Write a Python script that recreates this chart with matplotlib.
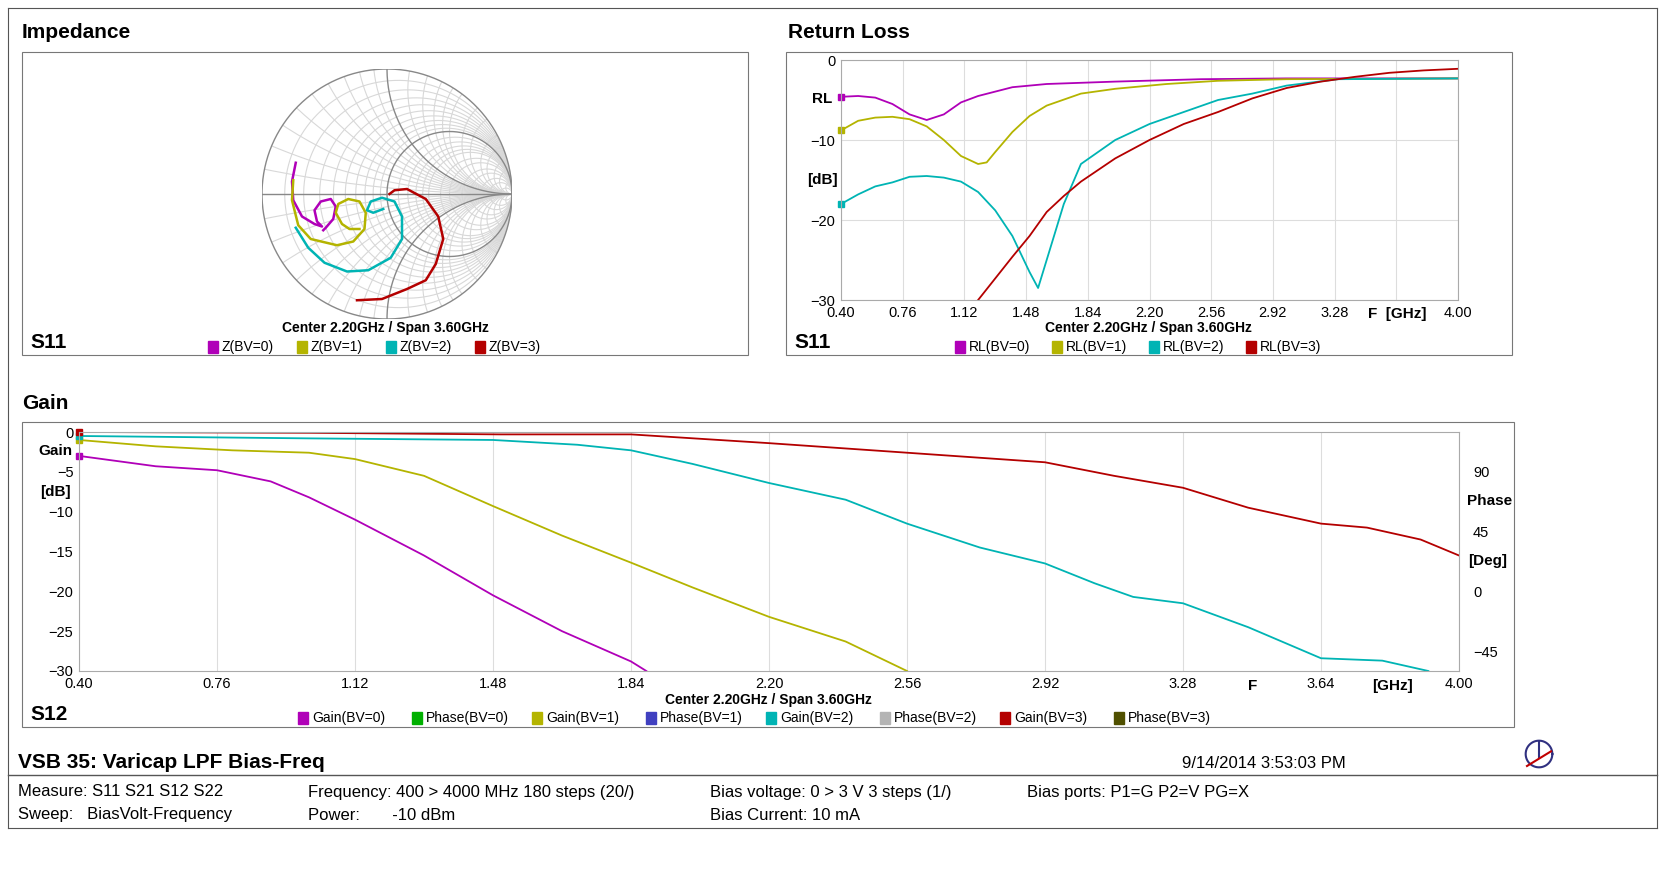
import matplotlib
matplotlib.use("Agg")
import matplotlib.pyplot as plt
import numpy as np
from matplotlib.patches import Circle, Rectangle

plt.rcParams['font.family'] = ['Liberation Sans', 'DejaVu Sans']

W, H = 1665, 883
colors = ['#b000b8', '#b4b400', '#00b4b4', '#b40000']
bv_names = ['BV=0', 'BV=1', 'BV=2', 'BV=3']

# Smith chart traces (reflection coefficient, re/im)
z_traces = [
    [(-0.73, 0.25), (-0.76, 0.10), (-0.75, -0.05), (-0.68, -0.18), (-0.58, -0.24), (-0.52, -0.26),
     (-0.56, -0.22), (-0.58, -0.13), (-0.53, -0.06), (-0.45, -0.04), (-0.41, -0.10), (-0.43, -0.20),
     (-0.49, -0.27), (-0.51, -0.29)],
    [(-0.75, 0.11), (-0.76, -0.05), (-0.71, -0.25), (-0.61, -0.36), (-0.40, -0.41), (-0.27, -0.38),
     (-0.18, -0.28), (-0.17, -0.15), (-0.22, -0.06), (-0.31, -0.04), (-0.39, -0.08), (-0.41, -0.15),
     (-0.36, -0.24), (-0.30, -0.28), (-0.22, -0.28)],
    [(-0.73, -0.27), (-0.63, -0.43), (-0.50, -0.55), (-0.32, -0.62), (-0.15, -0.61), (0.03, -0.51),
     (0.12, -0.36), (0.12, -0.18), (0.06, -0.06), (-0.04, -0.03), (-0.13, -0.06), (-0.16, -0.13),
     (-0.11, -0.15), (-0.03, -0.12)],
    [(-0.24, -0.85), (-0.04, -0.84), (0.16, -0.76), (0.31, -0.69), (0.39, -0.56), (0.45, -0.36),
     (0.41, -0.18), (0.31, -0.04), (0.16, 0.04), (0.06, 0.03), (0.02, 0.0)],
]

# Return loss (GHz, dB)
rl_f = [
    [0.4, 0.5, 0.6, 0.7, 0.8, 0.9, 1.0, 1.1, 1.2, 1.4, 1.6, 2.0, 2.5, 3.0, 4.0],
    [0.4, 0.5, 0.6, 0.7, 0.8, 0.9, 1.0, 1.1, 1.2, 1.25, 1.3, 1.4, 1.5, 1.6, 1.8, 2.0, 2.3, 2.6, 3.0, 4.0],
    [0.4, 0.5, 0.6, 0.7, 0.8, 0.9, 1.0, 1.1, 1.2, 1.3, 1.4, 1.5, 1.55, 1.6, 1.7, 1.8, 1.9, 2.0, 2.2,
     2.4, 2.6, 2.8, 3.0, 3.3, 4.0],
    [1.2, 1.3, 1.4, 1.5, 1.6, 1.7, 1.8, 2.0, 2.2, 2.4, 2.6, 2.8, 3.0, 3.2, 3.4, 3.6, 3.8, 4.0],
]
rl_db = [
    [-4.6, -4.5, -4.7, -5.5, -6.8, -7.5, -6.8, -5.3, -4.5, -3.4, -3.0, -2.7, -2.4, -2.3, -2.3],
    [-8.8, -7.6, -7.2, -7.1, -7.4, -8.3, -10, -12, -13, -12.8, -11.5, -9, -7, -5.7, -4.2, -3.6, -3.0,
     -2.6, -2.4, -2.3],
    [-18, -16.8, -15.8, -15.3, -14.6, -14.5, -14.7, -15.2, -16.5, -18.8, -22, -26.5, -28.5, -25, -18,
     -13, -11.5, -10, -8, -6.5, -5, -4.2, -3.2, -2.4, -2.3],
    [-30, -27.3, -24.6, -22, -19, -17, -15.2, -12.3, -10, -8, -6.5, -4.8, -3.5, -2.7, -2.1, -1.6, -1.3, -1.1],
]

# Gain S12 (GHz, dB)
g_f = [
    [0.4, 0.6, 0.76, 0.9, 1.0, 1.12, 1.3, 1.48, 1.66, 1.84, 1.88],
    [0.4, 0.6, 0.8, 1.0, 1.12, 1.3, 1.48, 1.66, 1.84, 2.0, 2.2, 2.4, 2.56],
    [0.4, 1.0, 1.48, 1.7, 1.84, 2.0, 2.2, 2.4, 2.56, 2.75, 2.92, 3.05, 3.15, 3.28, 3.45, 3.64, 3.8, 3.92],
    [0.4, 1.0, 1.5, 1.84, 2.2, 2.56, 2.92, 3.1, 3.28, 3.45, 3.64, 3.76, 3.9, 4.0],
]
g_db = [
    [-3, -4.3, -4.8, -6.2, -8.2, -11, -15.5, -20.5, -25, -28.8, -30],
    [-1, -1.8, -2.3, -2.6, -3.4, -5.5, -9.3, -13, -16.4, -19.5, -23.2, -26.3, -30],
    [-0.5, -0.8, -1.0, -1.6, -2.3, -4, -6.4, -8.5, -11.5, -14.5, -16.5, -19, -20.7, -21.5, -24.5, -28.4,
     -28.7, -30],
    [0, -0.1, -0.3, -0.3, -1.4, -2.6, -3.8, -5.5, -7, -9.5, -11.5, -12, -13.5, -15.5],
]
phase_colors = ['#00b000', '#4040c0', '#b4b4b4', '#505000']
xticks = np.round(np.arange(0.4, 4.01, 0.36), 2)

fig = plt.figure(figsize=(W / 100, H / 100), dpi=100)


def fax(l, t, r, b, **kw):
    return fig.add_axes([l / W, 1 - b / H, (r - l) / W, (b - t) / H], **kw)


def px(x, y, s, **kw):
    fig.text(x / W, 1 - y / H, s, **kw)


def legend_row(x0, y, items, gap):
    x = x0
    for col, lab in items:
        fig.patches.append(Rectangle((x / W, 1 - (y + 6) / H), 10 / W, 12 / H, color=col,
                                     transform=fig.transFigure))
        px(x + 14, y, lab, fontsize=10, va='center')
        x += gap(lab)


# outer frame and panel boxes
frame = fax(8, 8, 1657, 828)
frame.set_xticks([]); frame.set_yticks([])
for sp in frame.spines.values():
    sp.set_color('#555555')
for (l, t, r, b) in [(22, 52, 748, 355), (786, 52, 1512, 355), (22, 422, 1514, 727)]:
    fig.patches.append(Rectangle((l / W, 1 - b / H), (r - l) / W, (b - t) / H, fill=False,
                                 ec='#777777', lw=0.8, transform=fig.transFigure))
fig.add_artist(plt.Line2D([8 / W, 1657 / W], [1 - 775 / H, 1 - 775 / H], color='#555555', lw=1))

px(22, 32, 'Impedance', fontsize=15, fontweight='bold', va='center')
px(788, 32, 'Return Loss', fontsize=15, fontweight='bold', va='center')
px(22, 404, 'Gain', fontsize=15, fontweight='bold', va='center')
px(30, 343, 'S11', fontsize=15, fontweight='bold', va='center')
px(794, 343, 'S11', fontsize=15, fontweight='bold', va='center')
px(30, 714, 'S12', fontsize=15, fontweight='bold', va='center')

# Smith chart
ax = fax(262, 69, 512, 319)
ax.set_xlim(-1, 1); ax.set_ylim(-1, 1); ax.set_aspect('equal'); ax.axis('off')
clip = Circle((0, 0), 1, transform=ax.transData)
th = np.linspace(0, 2 * np.pi, 400)
for r in [0.1, 0.2, 0.3, 0.4, 0.5, 0.6, 0.7, 0.8, 0.9, 1.2, 1.4, 1.6, 1.8, 2, 2.5, 3, 4, 5, 7, 10, 20]:
    c, rad = r / (1 + r), 1 / (1 + r)
    ax.plot(c + rad * np.cos(th), rad * np.sin(th), color='#d8d8d8', lw=0.8)
for xv in [0.1, 0.2, 0.3, 0.4, 0.5, 0.6, 0.7, 0.8, 0.9, 1.2, 1.4, 1.6, 1.8, 2, 2.5, 3, 4, 5, 7, 10, 20]:
    for s in (1, -1):
        ln, = ax.plot(1 + np.cos(th) / xv, s / xv + np.sin(th) / xv, color='#d8d8d8', lw=0.8)
        ln.set_clip_path(clip)
ax.plot(0.5 + 0.5 * np.cos(th), 0.5 * np.sin(th), color='#888888', lw=1)
for s in (1, -1):
    ln, = ax.plot(1 + np.cos(th), s + np.sin(th), color='#888888', lw=1)
    ln.set_clip_path(clip)
ax.plot(np.cos(th), np.sin(th), color='#888888', lw=1)
ax.plot([-1, 1.05], [0, 0], color='#888888', lw=1)
for pts, col in zip(z_traces, colors):
    pts = np.array(pts)
    ax.plot(pts[:, 0], pts[:, 1], color=col, lw=1.8)
px(385, 328, 'Center 2.20GHz / Span 3.60GHz', fontsize=10, fontweight='bold', ha='center', va='center')
legend_row(208, 347, [(c, 'Z(' + n + ')') for c, n in zip(colors, bv_names)], lambda s: 89)

# Return loss
ax2 = fax(841, 60, 1458, 300)
ax2.set_xlim(0.4, 4.0); ax2.set_ylim(-30, 0)
ax2.set_xticks(xticks)
ax2.set_xticklabels(['%.2f' % v if abs(v - 3.64) > 0.01 else '' for v in xticks])
ax2.set_yticks([0, -10, -20, -30])
ax2.grid(color='#dddddd', lw=0.8)
for sp in ax2.spines.values():
    sp.set_color('#aaaaaa')
ax2.tick_params(length=0, labelsize=10.5, pad=4)
for f, d, col in zip(rl_f, rl_db, colors):
    ax2.plot(f, d, color=col, lw=1.3, clip_on=True)
    if f[0] == 0.4:
        ax2.plot([0.4], [d[0]], 's', color=col, ms=5, clip_on=False)
px(822, 99, 'RL', fontsize=11, fontweight='bold', ha='center', va='center')
px(822, 180, '[dB]', fontsize=11, fontweight='bold', ha='center', va='center')
px(1397, 314, 'F  [GHz]', fontsize=11, fontweight='bold', ha='center', va='center')
px(1148, 328, 'Center 2.20GHz / Span 3.60GHz', fontsize=10, fontweight='bold', ha='center', va='center')
legend_row(955, 347, [(c, 'RL(' + n + ')') for c, n in zip(colors, bv_names)], lambda s: 97)

# Gain / phase
ax3 = fax(79, 432, 1459, 671)
ax3.set_xlim(0.4, 4.0); ax3.set_ylim(-30, 0)
ax3.set_xticks(xticks)
ax3.set_xticklabels(['%.2f' % v for v in xticks])
ax3.set_yticks(np.arange(-30, 1, 5))
ax3.grid(axis='x', color='#dddddd', lw=0.8)
for sp in ax3.spines.values():
    sp.set_color('#aaaaaa')
ax3.tick_params(length=0, labelsize=10.5, pad=4)
for f, d, col in zip(g_f, g_db, colors):
    ax3.plot(f, d, color=col, lw=1.3)
    ax3.plot([0.4], [d[0]], 's', color=col, ms=5, clip_on=False)
ax4 = ax3.twinx()
ax4.set_ylim(-60, 120)
ax4.set_yticks([-45, 0, 45, 90])
ax4.tick_params(length=0, labelsize=10.5, pad=10)
for sp in ax4.spines.values():
    sp.set_visible(False)
px(55, 451, 'Gain', fontsize=11, fontweight='bold', ha='center', va='center')
px(55, 492, '[dB]', fontsize=11, fontweight='bold', ha='center', va='center')
px(1490, 501, 'Phase', fontsize=11, fontweight='bold', ha='center', va='center')
px(1488, 561, '[Deg]', fontsize=11, fontweight='bold', ha='center', va='center')
px(1253, 686, 'F', fontsize=11, fontweight='bold', ha='center', va='center')
px(1393, 686, '[GHz]', fontsize=11, fontweight='bold', ha='center', va='center')
px(768, 700, 'Center 2.20GHz / Span 3.60GHz', fontsize=10, fontweight='bold', ha='center', va='center')
items = []
for c, pc, n in zip(colors, phase_colors, bv_names):
    items += [(c, 'Gain(' + n + ')'), (pc, 'Phase(' + n + ')')]
legend_row(298, 718, items, lambda s: 114 if s.startswith('Gain') else 120)

# footer
px(18, 762, 'VSB 35: Varicap LPF Bias-Freq', fontsize=15, fontweight='bold', va='center')
px(1182, 763, '9/14/2014 3:53:03 PM', fontsize=12, va='center')
px(18, 792, 'Measure: S11 S21 S12 S22', fontsize=12, va='center')
px(18, 815, 'Sweep:   BiasVolt-Frequency', fontsize=12, va='center')
px(308, 792, 'Frequency: 400 > 4000 MHz 180 steps (20/)', fontsize=12, va='center')
px(308, 815, 'Power:       -10 dBm', fontsize=12, va='center')
px(710, 792, 'Bias voltage: 0 > 3 V 3 steps (1/)', fontsize=12, va='center')
px(710, 815, 'Bias Current: 10 mA', fontsize=12, va='center')
px(1027, 792, 'Bias ports: P1=G P2=V PG=X', fontsize=12, va='center')
logo = fax(1520, 738, 1558, 770)
logo.set_xlim(-1.2, 1.2); logo.set_ylim(-1.2, 1.2); logo.set_aspect('equal'); logo.axis('off')
logo.plot(np.cos(th), np.sin(th), color='#303080', lw=1.5)
logo.plot([0, 0], [0.9, -0.3], color='#303080', lw=1.5)
logo.plot([-0.9, 0.9], [-0.9, 0.2], color='#c00000', lw=1.5)

fig.savefig('out.png', dpi=100)
